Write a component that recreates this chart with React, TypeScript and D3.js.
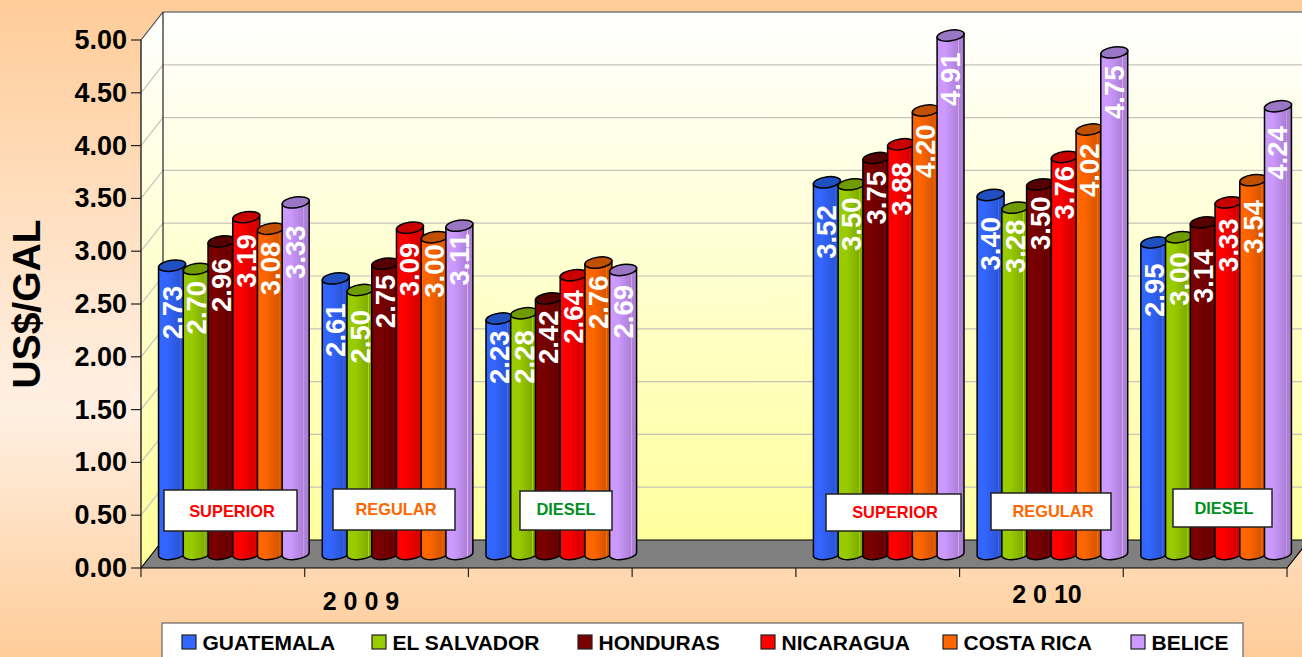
import React from "react";
import * as d3 from "d3";

// one slot per position on the axis, the empty slot separates the two years
const slots = ["sup09", "reg09", "die09", "gap", "sup10", "reg10", "die10"];
const countries = ["GUATEMALA", "EL SALVADOR", "HONDURAS", "NICARAGUA", "COSTA RICA", "BELICE"];

const guatemala = [2.73, 2.61, 2.23, null, 3.52, 3.4, 2.95];
const elSalvador = [2.7, 2.5, 2.28, null, 3.5, 3.28, 3.0];
const honduras = [2.96, 2.75, 2.42, null, 3.75, 3.5, 3.14];
const nicaragua = [3.19, 3.09, 2.64, null, 3.88, 3.76, 3.33];
const costaRica = [3.08, 3.0, 2.76, null, 4.2, 4.02, 3.54];
const belice = [3.33, 3.11, 2.69, null, 4.91, 4.75, 4.24];
const seriesValues = [guatemala, elSalvador, honduras, nicaragua, costaRica, belice];

const yTicks = [0, 0.5, 1, 1.5, 2, 2.5, 3, 3.5, 4, 4.5, 5];

// colours: body, top cap
const bodyColors = ["#3366FF", "#99CC00", "#7A0000", "#FF0000", "#FF6600", "#CC99FF"];
const capColors = ["#2050C0", "#6F9A00", "#550000", "#C80000", "#C05000", "#9977C4"];

// the labels were nudged by hand in the original, distance from cap centre to label end
const labelGaps = [
  [20, 25, 12, 0, 23, 22, 21],
  [12, 20, 17, 0, 13, 12, 15],
  [17, 11, 12, 0, 13, 12, 27],
  [17, 15, 15, 0, 18, 9, 16],
  [13, 7, 13, 0, 14, 14, 20],
  [23, 8, 15, 0, 17, 13, 20],
];

// hand placed text boxes of the original
const notes = [
  { text: "SUPERIOR", color: "#FF0000", x0: 164, x1: 297, y0: 490, y1: 531, base: 517, tx: 232 },
  { text: "REGULAR", color: "#FF6600", x0: 333, x1: 455, y0: 489, y1: 530, base: 515, tx: 396 },
  { text: "DIESEL", color: "#008F1F", x0: 520, x1: 612, y0: 491, y1: 530, base: 515, tx: 566 },
  { text: "SUPERIOR", color: "#FF0000", x0: 826, x1: 961, y0: 494, y1: 531, base: 518, tx: 895 },
  { text: "REGULAR", color: "#FF6600", x0: 991, x1: 1111, y0: 493, y1: 530, base: 517, tx: 1053 },
  { text: "DIESEL", color: "#008F1F", x0: 1173, x1: 1272, y0: 489, y1: 527, base: 514, tx: 1224 },
];

const legendSwatchX = [182, 372, 578, 761, 943, 1131];

const width = 1302;
const height = 657;
const font = "'Liberation Sans', Arial, sans-serif";

// 3d box of the plot
const left = 141;
const right = 1287;
const depthX = 22;
const depthY = 28;
const y0Front = 568;
const y5Front = 40;

const TILT = 8;
const RX = 13.6;
const RY = 5.4;

const y = d3.scaleLinear().domain([0, 5]).range([y0Front, y5Front]);
const xSlot = d3.scaleBand().domain(slots).range([left, right]);
const xBar = d3
  .scaleBand()
  .domain(countries)
  .range([0, xSlot.bandwidth()])
  .paddingInner(0)
  .paddingOuter(0.31);

function cylinder(cx: number, top: number, bottom: number) {
  const rad = (TILT * Math.PI) / 180;
  const dx = RX * Math.cos(rad);
  const dy = RX * Math.sin(rad);
  return (
    `M${cx - dx},${top + dy} L${cx - dx},${bottom + dy} ` +
    `A${RX},${RY} ${-TILT} 0 0 ${cx + dx},${bottom - dy} ` +
    `L${cx + dx},${top - dy} Z`
  );
}

export default function App() {
  const midX = depthX / 2;
  const midY = depthY / 2;

  return (
    <svg
      width={width}
      height={height}
      style={{ position: "absolute", left: 0, top: 0, display: "block" }}
      fontFamily={font}
    >
      <defs>
        <linearGradient id="page" x1="0" y1="0" x2="0" y2="1">
          <stop offset="0" stopColor="#FFCC99" />
          <stop offset="0.62" stopColor="#FFF0E4" />
          <stop offset="1" stopColor="#FFCC99" />
        </linearGradient>
        <linearGradient id="wall" gradientUnits="userSpaceOnUse" x1="0" y1={y5Front - depthY} x2="0" y2={y0Front}>
          <stop offset="0" stopColor="#FFFFFF" />
          <stop offset="1" stopColor="#FFFF99" />
        </linearGradient>
        {bodyColors.map((c, i) => {
          const dark = d3.color(c)!.darker(0.5).formatHex();
          const light = d3.color(c)!.brighter(0.35).formatHex();
          return (
            <linearGradient key={c} id={`bar${i}`} x1="0" y1="0" x2="1" y2="0">
              <stop offset="0" stopColor={c} />
              <stop offset="0.3" stopColor={c} />
              <stop offset="0.78" stopColor={dark} />
              <stop offset="0.8" stopColor={light} />
              <stop offset="0.83" stopColor={dark} />
              <stop offset="1" stopColor={dark} />
            </linearGradient>
          );
        })}
      </defs>

      <rect width={width} height={height} fill="url(#page)" />

      {/* walls and floor */}
      <polygon
        points={`${left + depthX},${y5Front - depthY} ${right + depthX + 20},${y5Front - depthY} ${right + depthX + 20},${y0Front - depthY} ${left + depthX},${y0Front - depthY}`}
        fill="url(#wall)"
      />
      <polygon
        points={`${left},${y5Front} ${left + depthX},${y5Front - depthY} ${left + depthX},${y0Front - depthY} ${left},${y0Front}`}
        fill="url(#wall)"
      />
      {yTicks.slice(1).map((t) => (
        <g key={t} stroke="#C4C4BC" strokeWidth={1.2} fill="none">
          <polyline
            points={`${left},${y(t)} ${left + depthX},${y(t) - depthY} ${width},${y(t) - depthY}`}
          />
        </g>
      ))}
      <polygon
        points={`${left},${y0Front} ${left + depthX},${y0Front - depthY} ${right + depthX},${y0Front - depthY} ${right},${y0Front}`}
        fill="#808080"
        stroke="#000"
        strokeWidth={1.2}
      />
      <polyline
        points={`${left},${y5Front} ${left + depthX},${y5Front - depthY} ${width},${y5Front - depthY}`}
        fill="none"
        stroke="#555"
        strokeWidth={1.2}
      />
      <line x1={left + depthX} x2={left + depthX} y1={y5Front - depthY} y2={y0Front - depthY} stroke="#222" strokeWidth={1.2} />
      <line x1={left} x2={left} y1={y5Front} y2={y0Front} stroke="#222" strokeWidth={1.4} />

      {/* axes */}
      {yTicks.map((t) => (
        <g key={t}>
          <line x1={left - 10} x2={left} y1={y(t)} y2={y(t)} stroke="#222" strokeWidth={1.2} />
          <text x={127} y={y(t) + 9} textAnchor="end" fontSize={27} fontWeight="bold">
            {t.toFixed(2)}
          </text>
        </g>
      ))}
      {[...slots.map((s) => xSlot(s)!), right].map((x) => (
        <line key={x} x1={x} x2={x} y1={y0Front} y2={y0Front + 9} stroke="#222" strokeWidth={1.2} />
      ))}
      <text
        transform="translate(40,304) rotate(-90)"
        textAnchor="middle"
        fontSize={39}
        fontWeight="bold"
      >
        US$/GAL
      </text>
      <text x={361} y={610} textAnchor="middle" fontSize={25} fontWeight="bold">
        2 0 0 9
      </text>
      <text x={1047} y={603} textAnchor="middle" fontSize={25} fontWeight="bold">
        2 0 10
      </text>

      {/* cylinders */}
      {slots.map((slot, s) =>
        countries.map((country, c) => {
          const v = seriesValues[c][s];
          if (v === null) return null;
          const cx = xSlot(slot)! + xBar(country)! + xBar.bandwidth() / 2 + midX;
          const top = y(v) - midY;
          const bottom = y(0) - midY;
          return (
            <g key={country + slot}>
              <path d={cylinder(cx, top, bottom)} fill={`url(#bar${c})`} stroke="#000" strokeWidth={1.5} />
              <ellipse
                rx={RX}
                ry={RY}
                transform={`translate(${cx},${top}) rotate(${-TILT})`}
                fill={capColors[c]}
                stroke="#000"
                strokeWidth={1.5}
              />
            </g>
          );
        }),
      )}

      {/* value labels above all the bars */}
      {slots.map((slot, s) =>
        countries.map((country, c) => {
          const v = seriesValues[c][s];
          if (v === null) return null;
          const cx = xSlot(slot)! + xBar(country)! + xBar.bandwidth() / 2 + midX;
          return (
            <text
              key={country + slot}
              transform={`translate(${cx + 9.5},${y(v) - midY + labelGaps[c][s]}) rotate(-90)`}
              textAnchor="end"
              fontSize={27.5}
              fontWeight="bold"
              fill="#FFFFFF"
            >
              {v.toFixed(2)}
            </text>
          );
        }),
      )}

      {/* text boxes */}
      {notes.map((n) => (
        <g key={n.text + n.x0}>
          <rect x={n.x0} y={n.y0} width={n.x1 - n.x0} height={n.y1 - n.y0} fill="#FFF" stroke="#222" strokeWidth={1.5} />
          <text x={n.tx} y={n.base} textAnchor="middle" fontSize={16.4} fontWeight="bold" fill={n.color}>
            {n.text}
          </text>
        </g>
      ))}

      {/* legend */}
      <rect x={162} y={623} width={1081} height={50} fill="#FFF" stroke="#666" strokeWidth={1.2} />
      {countries.map((country, i) => (
        <g key={country}>
          <rect x={legendSwatchX[i]} y={635} width={14} height={14} fill={bodyColors[i]} stroke="#222" strokeWidth={1.2} />
          <text x={legendSwatchX[i] + 20.5} y={650} fontSize={21} fontWeight="bold">
            {country}
          </text>
        </g>
      ))}
    </svg>
  );
}
